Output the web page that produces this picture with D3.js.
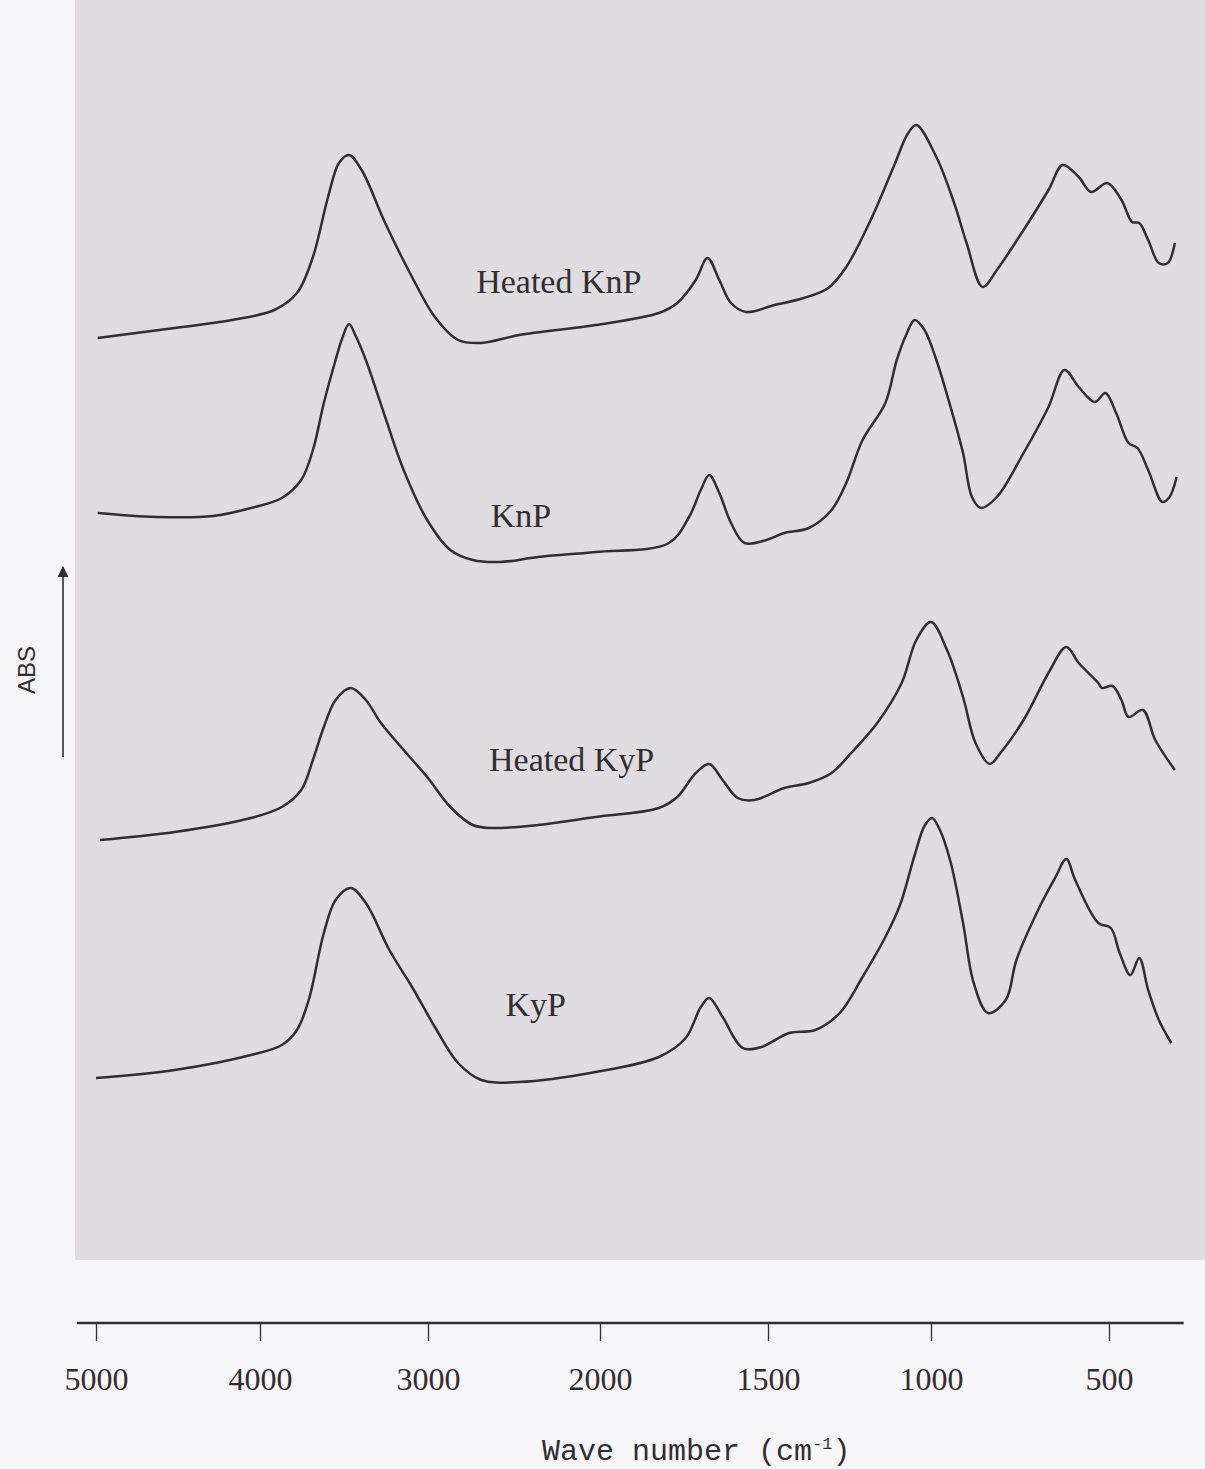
<!DOCTYPE html>
<html>
<head>
<meta charset="utf-8">
<script src="https://cdn.jsdelivr.net/npm/d3@7"></script>
<style>
	body { margin: 0; background: #f6f5f7; }
	svg { display: block; }
	.x-axis text { font-family: "Liberation Serif", "Times New Roman", serif; font-size: 32px; }
</style>
</head>
<body>
<svg id="spectra"></svg>
<script>
// tick values on the wave number axis (cm-1)
var tickWaves = [5000, 4000, 3000, 2000, 1500, 1000, 500];

// Heated KnP
var heatedKnpWave = [4990, 4520, 4170, 3915, 3780, 3685, 3595, 3530, 3470, 3395, 3255, 3095, 2960, 2825, 2690, 2470, 2025, 1825, 1770, 1715, 1680, 1645, 1610, 1565, 1480, 1390, 1315, 1260, 1185, 1115, 1070, 1045, 985, 935, 900, 855, 815, 740, 670, 630, 585, 550, 505, 465, 435, 415, 390, 360, 335, 315];
var heatedKnpAbs = [92.2, 93.2, 94.0, 95.0, 96.7, 100.3, 106.3, 109.7, 110.5, 109.0, 103.7, 98.3, 94.3, 92.0, 91.7, 92.5, 93.5, 94.7, 95.7, 98.0, 100.2, 98.0, 95.7, 94.8, 95.5, 96.2, 97.2, 99.3, 104.0, 109.3, 112.7, 113.5, 110.3, 105.7, 101.7, 97.3, 99.0, 103.0, 107.0, 109.5, 108.3, 106.8, 107.7, 106.0, 103.8, 103.7, 102.0, 99.7, 99.7, 101.7];

// KnP
var knpWave = [4990, 4635, 4285, 4055, 3870, 3755, 3685, 3620, 3550, 3510, 3470, 3430, 3370, 3255, 3145, 3005, 2870, 2740, 2580, 2360, 2025, 1795, 1735, 1700, 1675, 1645, 1610, 1570, 1505, 1450, 1375, 1305, 1260, 1210, 1140, 1105, 1075, 1050, 1020, 985, 945, 910, 885, 860, 815, 740, 670, 625, 585, 540, 510, 480, 445, 420, 390, 350, 330, 310];
var knpAbs = [74.7, 74.3, 74.4, 75.2, 76.2, 78.0, 81.0, 85.7, 90.0, 92.2, 93.6, 92.4, 90.0, 84.3, 79.0, 74.0, 71.0, 70.0, 69.8, 70.3, 70.8, 71.7, 74.3, 77.0, 78.5, 76.7, 73.7, 71.7, 72.0, 72.7, 73.2, 75.0, 77.7, 82.0, 85.7, 90.0, 92.6, 94.0, 93.0, 90.0, 85.3, 80.7, 76.3, 75.2, 76.3, 80.7, 85.3, 89.0, 87.3, 85.8, 86.7, 84.7, 81.7, 81.2, 79.0, 75.8, 76.3, 78.3];

// Heated KyP
var heatedKypWave = [4975, 4520, 4055, 3870, 3755, 3685, 3620, 3550, 3460, 3370, 3280, 3145, 3005, 2870, 2740, 2630, 2360, 2025, 1825, 1770, 1715, 1675, 1635, 1590, 1540, 1450, 1375, 1305, 1245, 1165, 1090, 1045, 1000, 955, 910, 875, 835, 805, 740, 670, 620, 585, 530, 520, 490, 465, 445, 405, 370, 315];
var heatedKypAbs = [42.0, 42.8, 44.2, 45.3, 47.0, 50.0, 53.3, 56.0, 57.2, 56.0, 53.7, 51.0, 48.3, 45.3, 43.5, 43.2, 43.5, 44.3, 45.2, 46.3, 48.7, 49.6, 48.0, 46.2, 46.0, 47.2, 47.7, 48.7, 50.7, 53.7, 57.7, 62.0, 63.8, 61.0, 56.3, 51.7, 49.6, 50.7, 54.0, 58.7, 61.3, 59.7, 57.7, 57.2, 57.4, 56.0, 54.3, 55.0, 52.0, 49.0];

// KyP
var kypWave = [5000, 4520, 4055, 3870, 3780, 3710, 3620, 3550, 3460, 3370, 3230, 3095, 2960, 2825, 2690, 2470, 2025, 1825, 1745, 1700, 1675, 1635, 1575, 1520, 1435, 1355, 1280, 1210, 1140, 1095, 1050, 1020, 997, 975, 945, 910, 880, 840, 790, 760, 695, 650, 620, 595, 530, 495, 470, 440, 415, 390, 360, 325];
var kypAbs = [18.2, 19.0, 20.5, 21.5, 23.0, 26.0, 32.7, 36.0, 37.2, 35.7, 31.0, 27.3, 23.3, 19.7, 18.0, 17.8, 18.8, 20.3, 22.2, 25.3, 26.2, 24.3, 21.2, 21.3, 22.7, 23.0, 24.7, 28.3, 32.3, 35.5, 40.5, 43.4, 44.2, 43.0, 39.8, 33.7, 27.7, 24.7, 26.0, 30.0, 35.3, 38.3, 40.1, 38.0, 33.7, 33.2, 30.7, 28.5, 30.2, 27.0, 24.0, 21.7];

var series = [
	{name: 'Heated KnP', wave: heatedKnpWave, abs: heatedKnpAbs, labelWave: 2720, labelAbs: 96.7},
	{name: 'KnP', wave: knpWave, abs: knpAbs, labelWave: 2635, labelAbs: 73.3},
	{name: 'Heated KyP', wave: heatedKypWave, abs: heatedKypAbs, labelWave: 2645, labelAbs: 48.9},
	{name: 'KyP', wave: kypWave, abs: kypAbs, labelWave: 2550, labelAbs: 24.4}
];

var width = 1205;
var height = 1469;
var plotBottom = 1260;
var axisY = 1323;
var ink = '#302e30';

var svg = d3.select('#spectra')
	.attr('width', width)
	.attr('height', height);

// two-scale IR chart: the region below 2000 cm-1 is stretched
var xScale = d3.scaleLinear()
	.domain(tickWaves)
	.range([96, 260, 428, 600, 768, 931, 1109]);

var yScale = d3.scaleLinear()
	.domain([0, 126])
	.range([plotBottom, 0]);

svg.append('rect')
	.attr('x', 75)
	.attr('y', 0)
	.attr('width', width - 75)
	.attr('height', plotBottom)
	.attr('fill', '#dedcdf');

var line = d3.line()
	.x(d => xScale(d[0]))
	.y(d => yScale(d[1]))
	.curve(d3.curveCatmullRom.alpha(0.5));

svg.selectAll('.spectrum')
	.data(series)
	.enter()
	.append('path')
	.attr('class', 'spectrum')
	.attr('d', s => line(s.wave.map((w, i) => [w, s.abs[i]])))
	.attr('fill', 'none')
	.attr('stroke', ink)
	.attr('stroke-width', 2.5)
	.attr('stroke-linejoin', 'round');

svg.selectAll('.spectrum-label')
	.data(series)
	.enter()
	.append('text')
	.attr('class', 'spectrum-label')
	.text(s => s.name)
	.attr('x', s => xScale(s.labelWave))
	.attr('y', s => yScale(s.labelAbs))
	.attr('font-family', '"Liberation Serif", "Times New Roman", serif')
	.attr('font-size', 34)
	.attr('fill', ink);

// x axis
var xAxis = d3.axisBottom()
	.scale(xScale)
	.tickValues(tickWaves)
	.tickSize(18)
	.tickPadding(26)
	.tickFormat(d3.format('d'));

var axisG = svg.append('g')
	.attr('class', 'x-axis')
	.attr('transform', `translate(0, ${axisY})`)
	.call(xAxis)
	.attr('font-family', '"Liberation Serif", "Times New Roman", serif')
	.attr('font-size', 32);

axisG.select('.domain').remove();
axisG.append('line')
	.attr('x1', xScale(5115))
	.attr('x2', xScale(290))
	.attr('stroke', ink)
	.attr('stroke-width', 2.6);
axisG.selectAll('.tick line')
	.attr('stroke', ink)
	.attr('stroke-width', 1.3);
axisG.selectAll('.tick text')
	.attr('fill', ink);

var title = svg.append('text')
	.attr('x', 542)
	.attr('y', 1460)
	.attr('font-family', '"Liberation Mono", "DejaVu Sans Mono", monospace')
	.attr('font-size', 30)
	.attr('fill', ink);
title.append('tspan').text('Wave number (cm');
title.append('tspan')
	.text('-1')
	.attr('dy', -11)
	.attr('font-size', 17);
title.append('tspan')
	.text(')')
	.attr('dy', 11);

// ABS arrow
svg.append('defs')
	.append('marker')
	.attr('id', 'arrow')
	.attr('viewBox', '0 0 10 10')
	.attr('refX', 9)
	.attr('refY', 5)
	.attr('markerWidth', 11)
	.attr('markerHeight', 11)
	.attr('markerUnits', 'userSpaceOnUse')
	.attr('orient', 'auto')
	.append('path')
	.attr('d', 'M0,0 L10,5 L0,10 Z')
	.attr('fill', ink);

svg.append('line')
	.attr('x1', 63)
	.attr('x2', 63)
	.attr('y1', 757)
	.attr('y2', 567)
	.attr('stroke', ink)
	.attr('stroke-width', 1.6)
	.attr('marker-end', 'url(#arrow)');

svg.append('text')
	.text('ABS')
	.attr('transform', 'translate(35, 670) rotate(-90)')
	.attr('text-anchor', 'middle')
	.attr('font-family', '"Liberation Sans", Arial, sans-serif')
	.attr('font-size', 24)
	.attr('fill', ink);
</script>
</body>
</html>
